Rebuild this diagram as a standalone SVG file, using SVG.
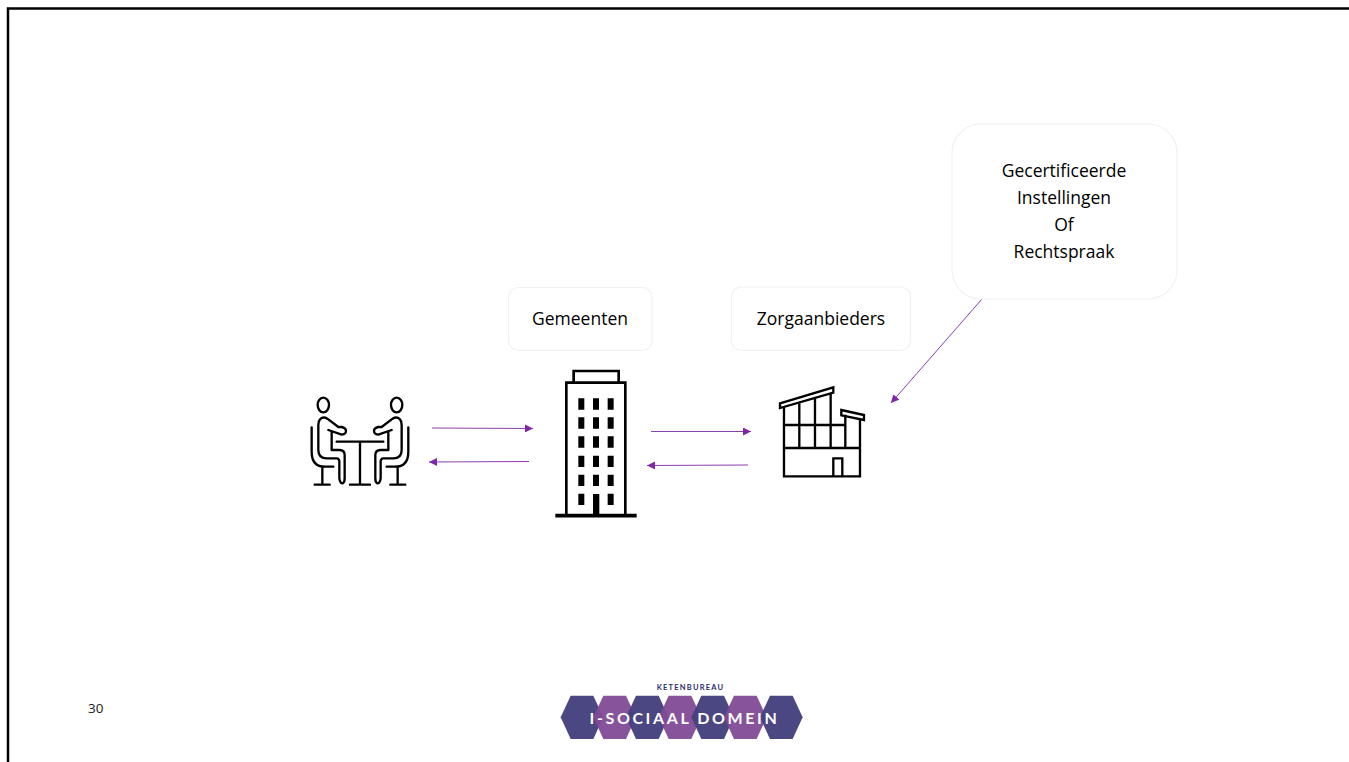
<svg xmlns="http://www.w3.org/2000/svg" width="1349" height="762" viewBox="0 0 1349 762">
<style>
.lbl{font-family:"Open Sans","Noto Sans","Liberation Sans",sans-serif;font-size:17.5px;fill:#000;text-anchor:middle}
.box{fill:#fff;stroke:#f2f0f4;stroke-width:1.2}
.ic{fill:none;stroke:#000;stroke-linecap:round;stroke-linejoin:round}
.arr{fill:none;stroke:#8a3fb0;stroke-width:1;marker-end:url(#ah)}
.hd{fill:#46437f;fill-opacity:.98}
.hp{fill:#814b96;fill-opacity:.95}
</style>
<defs>
<marker id="ah" markerUnits="userSpaceOnUse" markerWidth="9" markerHeight="8" refX="8" refY="4" orient="auto"><path d="M0 0L8 4L0 8z" fill="#7d28a8"/></marker>
</defs>
<rect width="1349" height="762" fill="#fff"/>
<path d="M8 762V8.500H1349" fill="none" stroke="#000" stroke-width="2.500"/>
<g id="connectors">
<path class="arr" d="M432 428L533 428.500"/>
<path class="arr" d="M529 461.500L429 462"/>
<path class="arr" d="M651 431.500L751 431.500"/>
<path class="arr" d="M748 465L647 465.500"/>
<path class="arr" d="M982 299L891 403"/>
</g>
<g id="people">
<g class="ic" transform="translate(290 360) scale(.3333)" stroke-width="7">
<g id="p1">
<ellipse cx="100" cy="135" rx="17" ry="22"/>
<path d="M115 210L155 224Q168 222 168 213Q168 204 155 201H145L112 176Q100 168 90 178Q85 183 85 195V270Q85 295 110 295H140Q148 295 148 305V355Q150 370 158 370Q164 368 164 355V285Q164 270 148 270H125V215"/>
<path d="M65 202V275Q65 320 105 320H130M97 320V372M74 374H119"/>
</g>
<g id="p2" transform="translate(420 0) scale(-1 1)">
<ellipse cx="100" cy="135" rx="17" ry="22"/>
<path d="M115 210L155 224Q168 222 168 213Q168 204 155 201H145L112 176Q100 168 90 178Q85 183 85 195V270Q85 295 110 295H140Q148 295 148 305V355Q150 370 158 370Q164 368 164 355V285Q164 270 148 270H125V215"/>
<path d="M65 202V275Q65 320 105 320H130M97 320V372M74 374H119"/>
</g>
<path d="M140 245H280M210 245V372M180 374H240"/>
</g>
</g>
<g id="gemeenten-icon">
<g transform="translate(540 360) scale(.3333)">
<path d="M101 65V33H236V65M79 467V68H256V467" fill="none" stroke="#000" stroke-width="8"/>
<path d="M46 467H290" stroke="#000" stroke-width="11"/>
<path d="M159 402H178V467H159z"/>
<g id="w">
<path d="M115 115h18v34h-18zM159 115h18v34h-18zM203 115h18v34h-18zM115 172h18v34h-18zM159 172h18v34h-18zM203 172h18v34h-18zM115 229h18v34h-18zM159 229h18v34h-18zM203 229h18v34h-18zM115 287h18v34h-18zM159 287h18v34h-18zM203 287h18v34h-18zM115 344h18v34h-18zM159 344h18v34h-18zM203 344h18v34h-18zM115 401h18v34h-18zM203 401h18v34h-18z"/>
</g>
</g>
</g>
<g id="zorg-icon">
<g transform="translate(640 370) scale(.3333)" fill="none" stroke="#000" stroke-width="7">
<path d="M420 100L580 52V68L420 114z" />
<path d="M604 120L672 135V150L604 136z"/>
<path d="M432 112V319H660V148M432 165H616M432 234H660M478 100V234M525 86V234M572 72V234M616 134V234M580 319V265H607V319"/>
</g>
</g>
<g id="gemeenten">
<rect class="box" x="508.500" y="287.500" width="143.500" height="63" rx="10"/>
<text class="lbl" x="580" y="325">Gemeenten</text>
</g>
<g id="zorgaanbieders">
<rect class="box" x="731.500" y="287" width="179" height="63.500" rx="10"/>
<text class="lbl" x="821" y="325">Zorgaanbieders</text>
</g>
<g id="instellingen">
<rect class="box" x="952" y="124" width="225" height="175" rx="29"/>
<text class="lbl" x="1064" y="177">Gecertificeerde</text>
<text class="lbl" x="1064" y="204">Instellingen</text>
<text class="lbl" x="1064" y="231">Of</text>
<text class="lbl" x="1064" y="258">Rechtspraak</text>
</g>
<text id="page" x="88" y="713" font-family="Open Sans,Noto Sans,sans-serif" font-size="13.500" fill="#222">30</text>
<g id="logo">
<g transform="translate(550 675) scale(.3333)">
<path class="hd" d="M32 127L62 62H130L160 127L130 192H62z"/>
<path class="hp" d="M130 127L160 62H228L258 127L228 192H160z"/>
<path class="hd" d="M228 127L258 62H326L356 127L326 192H258z"/>
<path class="hp" d="M326 127L356 62H424L454 127L424 192H356z"/>
<path class="hd" d="M424 127L454 62H522L552 127L522 192H454z"/>
<path class="hp" d="M522 127L552 62H620L650 127L620 192H552z"/>
<path class="hd" d="M630 127L660 62H728L758 127L728 192H660z"/>
</g>
<text x="684.500" y="724" font-family="Lato,Liberation Sans,sans-serif" font-size="16" font-weight="700" fill="#fff" text-anchor="middle" letter-spacing="2.600">I-SOCIAAL DOMEIN</text>
<text x="690.500" y="690" font-family="Lato,Liberation Sans,sans-serif" font-size="7.500" font-weight="700" fill="#2c2a6e" text-anchor="middle" letter-spacing="1.200">KETENBUREAU</text>
</g>
</svg>
